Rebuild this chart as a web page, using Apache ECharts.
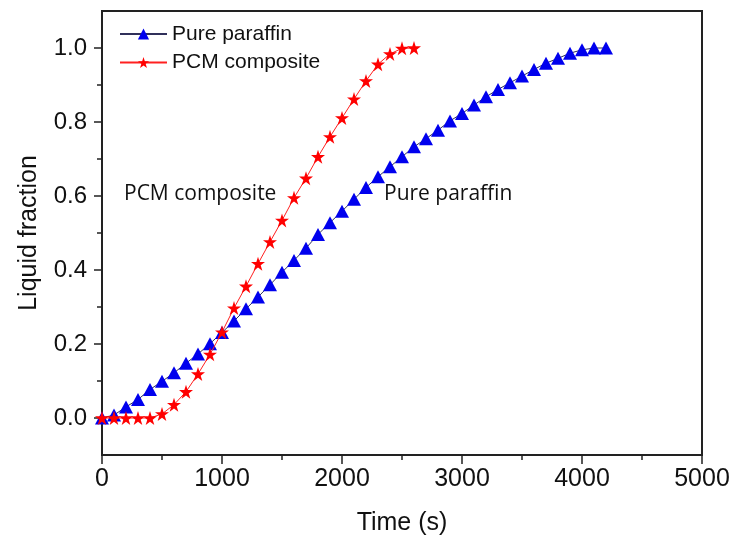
<!DOCTYPE html>
<html>
<head>
<meta charset="utf-8">
<script src="https://cdn.jsdelivr.net/npm/echarts@6/dist/echarts.min.js"></script>
<style>html,body{margin:0;padding:0;background:#fff}#c{width:729px;height:542px}</style>
</head>
<body>
<div id="c"></div>
<script>
// ---- Data ----
var paraffinTime = [0,100,200,300,400,500,600,700,800,900,1000,1100,1200,1300,1400,1500,1600,1700,1800,1900,2000,2100,2200,2300,2400,2500,2600,2700,2800,2900,3000,3100,3200,3300,3400,3500,3600,3700,3800,3900,4000,4100,4200];
var paraffinFraction = [0,0.008,0.03,0.05,0.077,0.099,0.122,0.148,0.173,0.201,0.231,0.262,0.295,0.327,0.360,0.394,0.426,0.459,0.496,0.528,0.559,0.591,0.623,0.652,0.679,0.706,0.733,0.755,0.778,0.803,0.823,0.846,0.868,0.888,0.906,0.924,0.942,0.959,0.972,0.986,0.995,1.0,1.0];
var compositeTime = [0,100,200,300,400,500,600,700,800,900,1000,1100,1200,1300,1400,1500,1600,1700,1800,1900,2000,2100,2200,2300,2400,2500,2600];
var compositeFraction = [0,0,0,0,0,0.011,0.036,0.071,0.119,0.172,0.232,0.297,0.356,0.417,0.476,0.534,0.595,0.648,0.706,0.760,0.811,0.862,0.911,0.956,0.984,0.999,1.0];
var yMajorTicks = [0,0.2,0.4,0.6,0.8,1.0];
var yMinorTicks = [0.1,0.3,0.5,0.7,0.9];
var seriesNames = ['Pure paraffin','PCM composite'];

function zip(a,b){var r=[];for(var i=0;i<a.length;i++){r.push([a[i],b[i]]);}return r;}

var chart = echarts.init(document.getElementById('c'), null, {renderer:'canvas'});
var axisFont = 'Liberation Sans, Arial, sans-serif';
chart.setOption({
  animation:false,
  backgroundColor:'#ffffff',
  grid:{left:102,right:27,top:11,bottom:87,show:true,borderColor:'#222',borderWidth:2,backgroundColor:'transparent',
    containLabel:false, outerBoundsMode:'none'},
  legend:{
    orient:'vertical', left:119, top:23, padding:0, itemWidth:47, itemHeight:14, itemGap:6.5,
    textStyle:{fontFamily:axisFont,fontSize:21,color:'#111',lineHeight:22},
    data:seriesNames
  },
  xAxis:{
    type:'value', min:0, max:5000, interval:1000,
    name:'Time (s)', nameLocation:'middle', nameGap:56,
    nameTextStyle:{fontFamily:axisFont,fontSize:25,color:'#111'},
    axisLine:{show:true,onZero:false,lineStyle:{color:'#222',width:2}},
    axisTick:{show:true,length:9,lineStyle:{color:'#222',width:1.5}},
    minorTick:{show:true,splitNumber:2,length:5,lineStyle:{color:'#222',width:1.5}},
    axisLabel:{fontFamily:axisFont,fontSize:25,color:'#111',margin:12,showMaxLabel:true,
      formatter:function(v){return String(v);}},
    splitLine:{show:false}
  },
  yAxis:[{
    type:'value', min:-0.1, max:1.1,
    name:'Liquid fraction', nameLocation:'middle', nameGap:60,
    nameTextStyle:{fontFamily:axisFont,fontSize:25,color:'#111'},
    axisLine:{show:true,onZero:false,lineStyle:{color:'#222',width:2}},
    axisTick:{show:true,length:8,customValues:yMajorTicks,lineStyle:{color:'#222',width:1.5}},
    axisLabel:{fontFamily:axisFont,fontSize:24,color:'#111',margin:15,customValues:yMajorTicks,
      formatter:function(v){return v.toFixed(1);}},
    splitLine:{show:false}
  },{
    type:'value', min:-0.1, max:1.1, position:'left',
    axisLine:{show:false},
    axisTick:{show:true,length:5,customValues:yMinorTicks,lineStyle:{color:'#222',width:1.5}},
    axisLabel:{show:false},
    splitLine:{show:false}
  }],
  series:[{
    name:seriesNames[0], type:'line', data:zip(paraffinTime,paraffinFraction),
    symbol:'triangle', symbolSize:[14,13], showAllSymbol:true,
    itemStyle:{color:'#0000ee'},
    lineStyle:{color:'#30305a',width:1},
    z:3
  },{
    name:seriesNames[1], type:'line', data:zip(compositeTime,compositeFraction),
    symbol:'path://M50,0 L61.8,36.2 L100,36.2 L69.1,58.8 L80.9,95.1 L50,72.7 L19.1,95.1 L30.9,58.8 L0,36.2 L38.2,36.2 Z',
    symbolSize:14, showAllSymbol:true,
    itemStyle:{color:'#ff0000'},
    lineStyle:{color:'#ff2020',width:1},
    z:4
  }],
  graphic:[
    {type:'text', left:124, top:184, style:{text:'PCM composite', font:'21px "Open Sans", sans-serif', fill:'#111'}},
    {type:'text', left:384, top:184, style:{text:'Pure paraffin', font:'21px "Open Sans", sans-serif', fill:'#111'}}
  ]
});
</script>
</body>
</html>
